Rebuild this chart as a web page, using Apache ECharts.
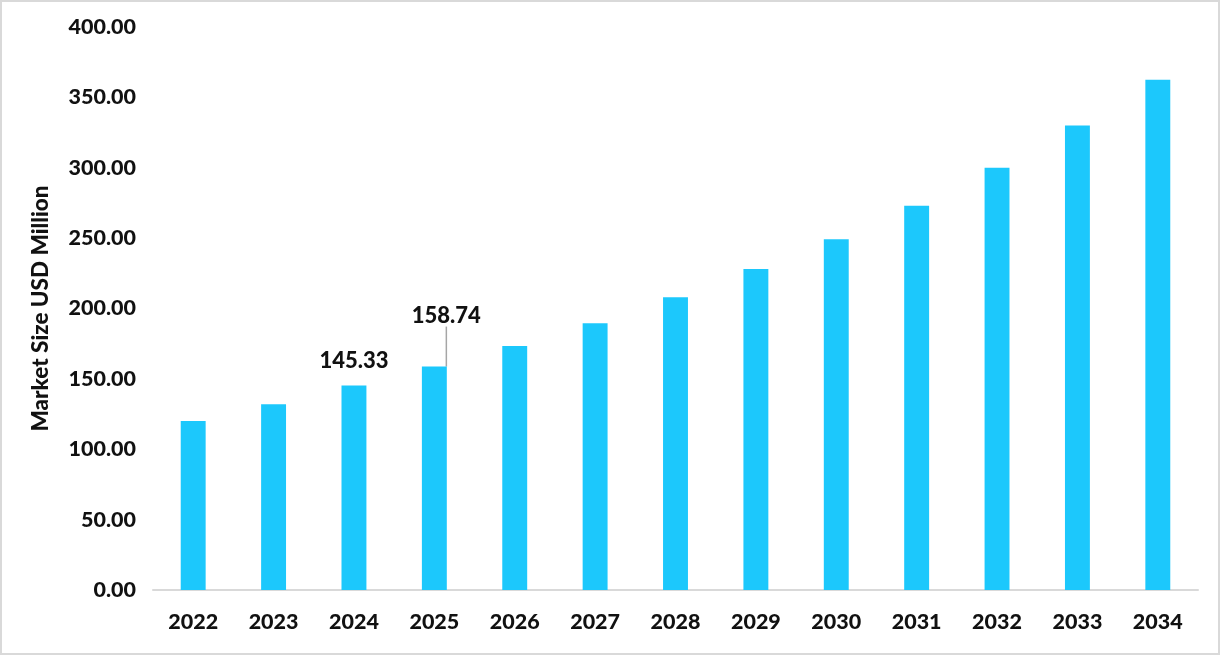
<!DOCTYPE html>
<html><head><meta charset="utf-8">
<script src="https://cdn.jsdelivr.net/npm/echarts@6/dist/echarts.min.js"></script>
<style>
html,body{margin:0;padding:0;background:#fff;}
#frame{position:absolute;left:0;top:0;width:1216px;height:651px;border:2px solid #d9d9d9;}
#c{position:absolute;left:0;top:0;width:1220px;height:655px;}
</style></head>
<body>
<div id="frame"></div>
<div id="c"></div>
<script>
const years = ['2022','2023','2024','2025','2026','2027','2028','2029','2030','2031','2032','2033','2034'];
const marketSize = [120.0, 132.0, 145.33, 158.74, 173.3, 189.6, 208.0, 228.0, 249.2, 273.0, 300.0, 330.0, 362.5];
const labeledYears = ['2024','2025'];
const yTicks = {min: 0, max: 400, interval: 50};

const FONT = 'Lato, "Open Sans", sans-serif';
const chart = echarts.init(document.getElementById('c'));
chart.setOption({
  animation: false,
  grid: {left: 153, right: 22, top: 27, bottom: 65, containLabel: false},
  xAxis: {
    type: 'category', data: years,
    axisTick: {show: false},
    axisLine: {lineStyle: {color: '#d9d9d9', width: 2}},
    axisLabel: {color: '#111', fontFamily: FONT, fontWeight: 900, fontSize: 21.5, margin: 21}
  },
  yAxis: {
    type: 'value', min: yTicks.min, max: yTicks.max, interval: yTicks.interval,
    name: 'Market Size USD Million', nameLocation: 'middle', nameGap: 101,
    nameTextStyle: {color: '#111', fontFamily: FONT, fontWeight: 900, fontSize: 22.5},
    splitLine: {show: false},
    axisLine: {show: false}, axisTick: {show: false},
    axisLabel: {color: '#111', fontFamily: FONT, fontWeight: 900, fontSize: 21.5, margin: 17,
      formatter: v => v.toFixed(2)}
  },
  series: [{
    type: 'bar',
    barWidth: '31%',
    itemStyle: {color: '#1cc8fc'},
    data: marketSize.map((v, i) => {
      const show = labeledYears.includes(years[i]);
      return {
        value: v,
        label: {show: show, position: 'top', distance: 14,
          formatter: p => p.value.toFixed(2),
          color: '#111', fontFamily: FONT, fontWeight: 900, fontSize: 22},
        labelLine: {show: years[i] === '2025', lineStyle: {color: '#a6a6a6', width: 1.5}}
      };
    }),
    labelLayout: function (p) {
      if (p.dataIndex === 3) return {dx: 12, dy: -26};
      return {};
    }
  }]
});
</script>
</body></html>
